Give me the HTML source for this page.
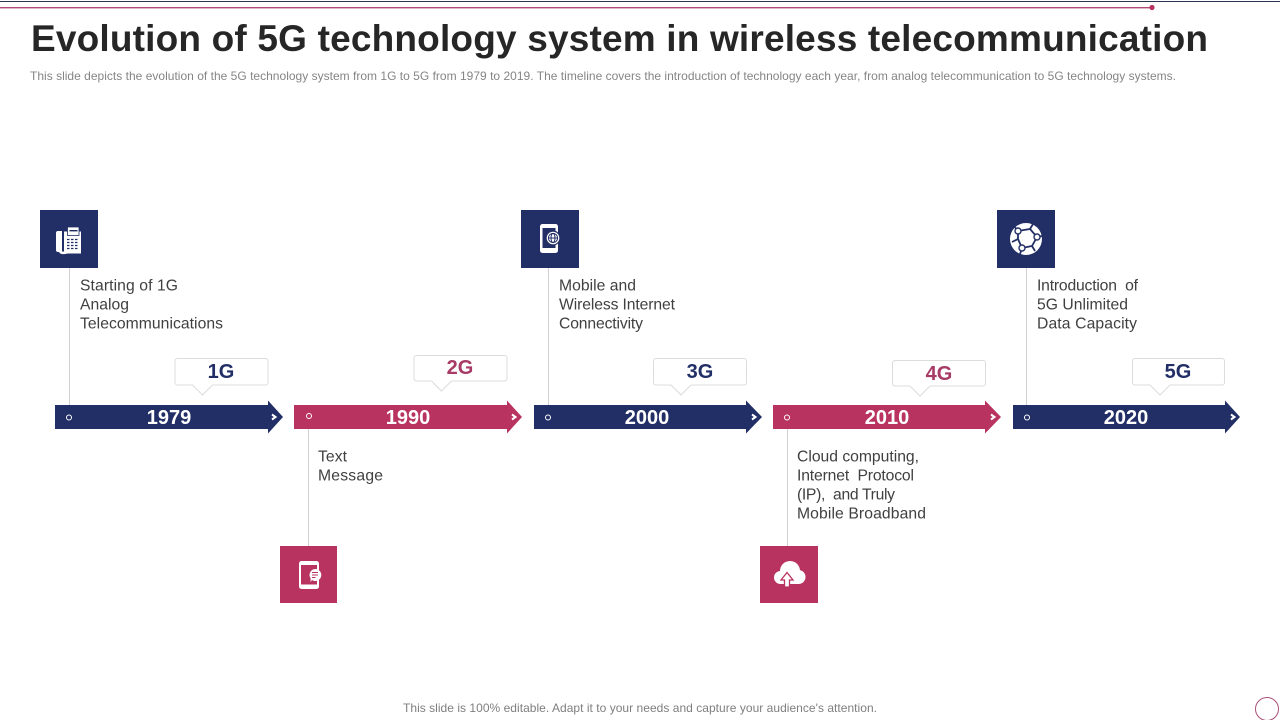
<!DOCTYPE html>
<html lang="en">
<head>
<meta charset="utf-8">
<title>Evolution of 5G technology system in wireless telecommunication</title>
<style>
html,body{margin:0;padding:0;width:1280px;height:720px;background:#fff;overflow:hidden}
svg{display:block}
text{font-family:"Liberation Sans",sans-serif}
.body{font-size:15.7px;fill:#404040}
.year{font-size:20px;font-weight:bold;fill:#fff;text-anchor:middle}
.gen{font-size:20px;font-weight:bold;text-anchor:middle}
.box{fill:#fff;stroke:#dcdcdc;stroke-width:1}
.conn{stroke:#d0d0d0;stroke-width:1;fill:none}
.navy{fill:#222f66}
.pink{fill:#b93361}
</style>
</head>
<body>
<svg width="1280" height="720" viewBox="0 0 1280 720" xmlns="http://www.w3.org/2000/svg">
  <rect x="0" y="1" width="1280" height="1" fill="#2a3550"/>
  <rect x="0" y="7" width="1152" height="1.4" fill="#b04a76"/>
  <circle cx="1152" cy="7.5" r="2.6" fill="#b93361"/>

  <text x="31" y="51" font-size="37" font-weight="bold" fill="#262626" textLength="1177" lengthAdjust="spacing">Evolution of 5G technology system in wireless telecommunication</text>
  <text x="30" y="80" font-size="12" fill="#858585" textLength="1146" lengthAdjust="spacing">This slide depicts the evolution of the 5G technology system from 1G to 5G from 1979 to 2019. The timeline covers the introduction of technology each year, from analog telecommunication to 5G technology systems.</text>

  <!-- connectors -->
  <line class="conn" x1="69.5" y1="268" x2="69.5" y2="405"/>
  <line class="conn" x1="308.5" y1="429" x2="308.5" y2="546"/>
  <line class="conn" x1="548.5" y1="268" x2="548.5" y2="405"/>
  <line class="conn" x1="787.5" y1="429" x2="787.5" y2="546"/>
  <line class="conn" x1="1026.5" y1="268" x2="1026.5" y2="405"/>

  <!-- 1979 -->
  <g>
    <polygon class="navy" points="55,405 268,405 268,400.5 283,417 268,433.5 268,429 55,429"/>
    <circle cx="69" cy="417.5" r="2.5" fill="none" stroke="#fff" stroke-width="1"/>
    <path d="M272 414.5l3.500 2.500-3.500 2.500" fill="none" stroke="#fff" stroke-width="2"/>
    <text class="year" x="169" y="424">1979</text>
    <path class="box" d="M177.500 358.500h88a2.500 2.500 0 0 1 2.500 2.500v21.500a2.500 2.500 0 0 1-2.500 2.500h-53l-10 10-10-10h-15a2.500 2.500 0 0 1-2.500-2.500v-21.500a2.500 2.500 0 0 1 2.500-2.500z"/>
    <text class="gen navy" x="221" y="378">1G</text>
    <text class="body" x="80" y="290.500" textLength="98" lengthAdjust="spacing">Starting of 1G</text>
    <text class="body" x="80" y="309.500" textLength="49" lengthAdjust="spacing">Analog</text>
    <text class="body" x="80" y="328.500" textLength="143" lengthAdjust="spacing">Telecommunications</text>
    <rect class="navy" x="40" y="210" width="58" height="58"/>
    <g>
      <path d="M58 231h4v21h-4c-1.500 0-2-1-2-2v-17c0-1 .5-2 2-2z" fill="#fff"/>
      <path d="M59 252c1 2 3 2.500 6 2l3-.5h13v-22h-17v20h-3z" fill="#fff"/>
      <rect x="67.500" y="227" width="11.500" height="8.500" fill="#fff" stroke="#222f66" stroke-width=".8"/>
      <rect x="69.500" y="230" width="8" height="1.400" fill="#222f66"/>
      <path d="M67 239.500h12M67 242.500h12M67 245.500h12M67 248.500h12" stroke="#222f66" stroke-width="1.200" stroke-dasharray="2.500 1.500" fill="none"/>
    </g>
  </g>

  <!-- 1990 -->
  <g>
    <polygon class="pink" points="294,405 507,405 507,400.500 522,417 507,433.500 507,429 294,429"/>
    <circle cx="309" cy="416" r="2.500" fill="none" stroke="#fff" stroke-width="1"/>
    <path d="M512 414.500l3.500 2.500-3.500 2.500" fill="none" stroke="#fff" stroke-width="2"/>
    <text class="year" x="408" y="424">1990</text>
    <path class="box" d="M416.500 355.500h88a2.500 2.500 0 0 1 2.500 2.500v20.500a2.500 2.500 0 0 1-2.500 2.500h-53l-10 10-10-10h-15a2.500 2.500 0 0 1-2.500-2.500v-20.500a2.500 2.500 0 0 1 2.500-2.500z"/>
    <text class="gen" fill="#a83a66" x="460" y="374">2G</text>
    <text class="body" x="318" y="461.500" textLength="29" lengthAdjust="spacing">Text</text>
    <text class="body" x="318" y="480.500" textLength="65" lengthAdjust="spacing">Message</text>
    <rect class="pink" x="280" y="546" width="57" height="57"/>
    <g>
      <rect x="299" y="561" width="20" height="28" rx="2.500" fill="#fff"/>
      <rect x="301" y="565" width="16" height="19.500" fill="#b93361"/>
      <path d="M315 569a6 6 0 1 1-3 11l-1.500 2 .2-3.500a6 6 0 0 1 4.300-9.500z" fill="#fff"/>
      <path d="M312 572.500h6M312 575h6M312 577.500h3.500" stroke="#b93361" stroke-width="1" fill="none"/>
    </g>
  </g>

  <!-- 2000 -->
  <g>
    <polygon class="navy" points="534,405 746,405 746,400.500 762,417 746,433.500 746,429 534,429"/>
    <circle cx="548" cy="417.500" r="2.500" fill="none" stroke="#fff" stroke-width="1"/>
    <path d="M752 414.500l3.500 2.500-3.500 2.500" fill="none" stroke="#fff" stroke-width="2"/>
    <text class="year" x="647" y="424">2000</text>
    <path class="box" d="M656 358.500h88a2.500 2.500 0 0 1 2.500 2.500v21.500a2.500 2.500 0 0 1-2.500 2.500h-53l-10 10-10-10h-15a2.500 2.500 0 0 1-2.500-2.500v-21.500a2.500 2.500 0 0 1 2.500-2.500z"/>
    <text class="gen navy" x="700" y="378">3G</text>
    <text class="body" x="559" y="290.500" textLength="77" lengthAdjust="spacing">Mobile and</text>
    <text class="body" x="559" y="309.500" textLength="116" lengthAdjust="spacing">Wireless Internet</text>
    <text class="body" x="559" y="328.500" textLength="84" lengthAdjust="spacing">Connectivity</text>
    <rect class="navy" x="521" y="210" width="58" height="58"/>
    <g>
      <rect x="540" y="224" width="18" height="29" rx="2.500" fill="#fff"/>
      <rect x="542.500" y="228" width="13" height="20" fill="#222f66"/>
      <circle cx="553" cy="238" r="7.500" fill="#222f66"/>
      <circle cx="553" cy="238" r="6.300" fill="#fff"/>
      <circle cx="553" cy="238" r="4.600" fill="none" stroke="#222f66" stroke-width="1"/>
      <ellipse cx="553" cy="238" rx="2" ry="4.600" fill="none" stroke="#222f66" stroke-width="1"/>
      <path d="M548 238h10" stroke="#222f66" stroke-width="1"/>
    </g>
  </g>

  <!-- 2010 -->
  <g>
    <polygon class="pink" points="773,405 985,405 985,400.500 1001,417 985,433.500 985,429 773,429"/>
    <circle cx="787" cy="417.500" r="2.500" fill="none" stroke="#fff" stroke-width="1"/>
    <path d="M991 414.500l3.500 2.500-3.500 2.500" fill="none" stroke="#fff" stroke-width="2"/>
    <text class="year" x="887" y="424">2010</text>
    <path class="box" d="M895 360.500h88a2.500 2.500 0 0 1 2.500 2.500v20.500a2.500 2.500 0 0 1-2.500 2.500h-53l-10 10-10-10h-15a2.500 2.500 0 0 1-2.500-2.500v-20.500a2.500 2.500 0 0 1 2.500-2.500z"/>
    <text class="gen" fill="#a83a66" x="939" y="380">4G</text>
    <text class="body" x="797" y="461.500" textLength="122" lengthAdjust="spacing">Cloud computing,</text>
    <text class="body" x="797" y="480.500" textLength="117" lengthAdjust="spacing">Internet&#160;&#160;Protocol</text>
    <text class="body" x="797" y="499.500" textLength="98" lengthAdjust="spacing">(IP),&#160; and Truly</text>
    <text class="body" x="797" y="518.500" textLength="129" lengthAdjust="spacing">Mobile Broadband</text>
    <rect class="pink" x="760" y="546" width="58" height="57"/>
    <g>
      <g fill="#fff">
        <circle cx="790" cy="571" r="10"/>
        <circle cx="780.500" cy="577.500" r="6.500"/>
        <circle cx="798.500" cy="577" r="7"/>
        <rect x="780" y="574" width="19" height="10"/>
      </g>
      <path d="M784.500 587v-7h-3.500l6-7.500 6 7.500h-3.500v7z" fill="#fff" stroke="#b93361" stroke-width="1.300"/>
    </g>
  </g>

  <!-- 2020 -->
  <g>
    <polygon class="navy" points="1013,405 1225,405 1225,400.500 1240,417 1225,433.500 1225,429 1013,429"/>
    <circle cx="1027" cy="417.500" r="2.500" fill="none" stroke="#fff" stroke-width="1"/>
    <path d="M1231 414.500l3.500 2.500-3.500 2.500" fill="none" stroke="#fff" stroke-width="2"/>
    <text class="year" x="1126" y="424">2020</text>
    <path class="box" d="M1135 358.500h87a2.500 2.500 0 0 1 2.500 2.500v21.500a2.500 2.500 0 0 1-2.500 2.500h-52l-10 10-10-10h-15a2.500 2.500 0 0 1-2.500-2.500v-21.500a2.500 2.500 0 0 1 2.500-2.500z"/>
    <text class="gen navy" x="1178" y="378">5G</text>
    <text class="body" x="1037" y="290.500" textLength="101" lengthAdjust="spacing">Introduction&#160;&#160;of</text>
    <text class="body" x="1037" y="309.500" textLength="91" lengthAdjust="spacing">5G Unlimited</text>
    <text class="body" x="1037" y="328.500" textLength="100" lengthAdjust="spacing">Data Capacity</text>
    <rect class="navy" x="997" y="210" width="58" height="58"/>
    <g>
      <circle cx="1026" cy="239" r="16" fill="#fff"/>
      <g fill="none" stroke="#222f66" stroke-width="1.800">
        <path d="M1018 231l12-2 7 8-5 9-10 2-4-9z"/>
        <path d="M1018 231l-4-5M1030 229l3-5M1037 237l5-1M1032 246l3 5M1022 248l-2 6M1018 239l-6 3"/>
      </g>
      <g fill="#fff" stroke="#222f66" stroke-width="1.400">
        <circle cx="1018" cy="231" r="3"/>
        <circle cx="1037" cy="237" r="3"/>
        <circle cx="1022" cy="248" r="3"/>
      </g>
    </g>
  </g>

  <text x="640" y="712" font-size="12" fill="#7f7f7f" text-anchor="middle" textLength="474" lengthAdjust="spacing">This slide is 100% editable. Adapt it to your needs and capture your audience's attention.</text>
  <circle cx="1267" cy="709" r="11.500" fill="none" stroke="#a85078" stroke-width="1"/>
</svg>
</body>
</html>
